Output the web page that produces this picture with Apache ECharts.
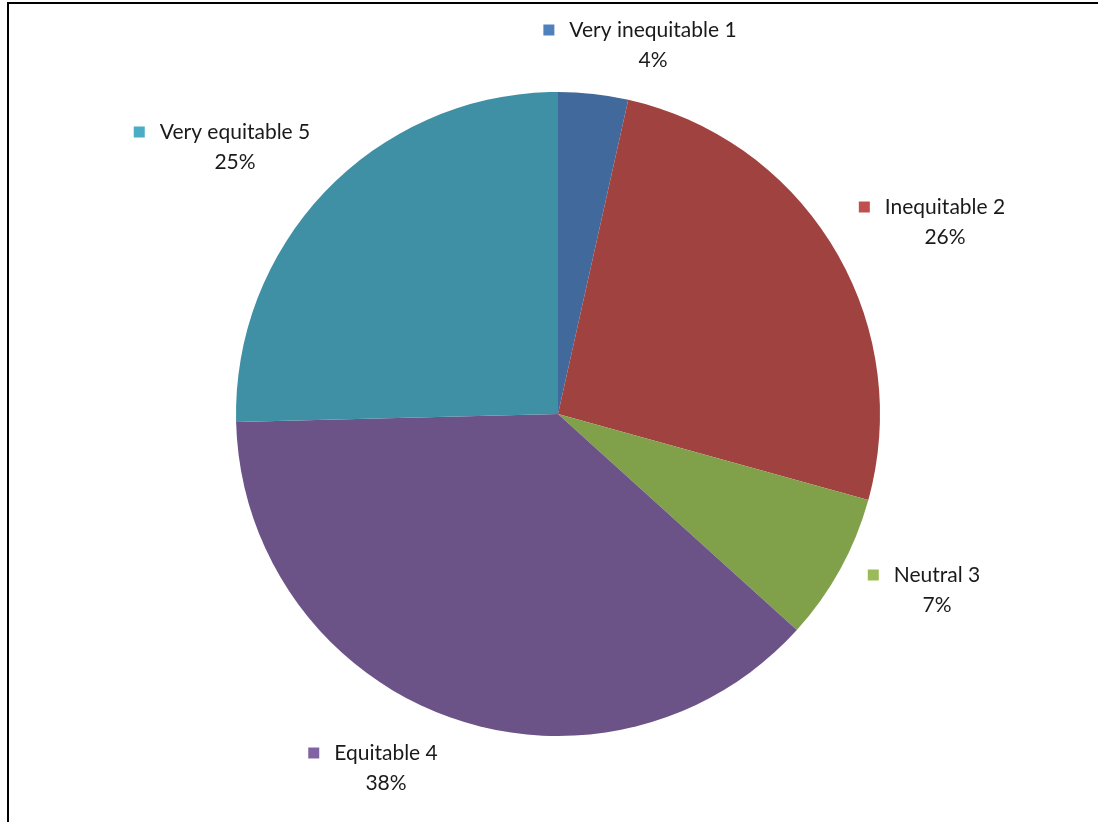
<!DOCTYPE html>
<html>
<head>
<meta charset="utf-8">
<script src="https://cdn.jsdelivr.net/npm/echarts@6/dist/echarts.min.js"></script>
<style>
html,body{margin:0;padding:0;background:#fff;}
#chart{width:1098px;height:822px;}
</style>
</head>
<body>
<div id="chart"></div>
<script>
// Data
var categories = ['Very inequitable 1', 'Inequitable 2', 'Neutral 3', 'Equitable 4', 'Very equitable 5'];
var values = [3.5, 25.8, 7.4, 37.9, 25.4];
var sliceColors = ['#41699B', '#A0423F', '#81A04A', '#6B5388', '#3F8FA5'];
var keyColors = ['#4F81BD', '#C0504D', '#9BBB59', '#8064A2', '#4BACC6'];
// label block centres (layout only)
var labelPos = [[640, 45], [932, 222], [924, 590], [373, 768], [222, 147]];

var chart = echarts.init(document.getElementById('chart'), null, {renderer: 'canvas'});
var total = values.reduce(function (a, b) { return a + b; }, 0);

var data = categories.map(function (c, i) {
  return {
    name: c,
    value: values[i],
    itemStyle: {color: sliceColors[i]},
    label: {
      rich: {
        sq: {width: 11, height: 11, backgroundColor: keyColors[i], padding: 0},
        gap: {width: 15},
        sp: {width: 26},
        t: {fontSize: 21, fontFamily: 'Lato, "Open Sans", sans-serif', color: '#1a1a1a', lineHeight: 30},
      }
    }
  };
});

chart.setOption({
  animation: false,
  backgroundColor: '#ffffff',
  graphic: [
    {type: 'line', shape: {x1: 7, y1: 3, x2: 1098, y2: 3}, style: {stroke: '#000', lineWidth: 2}},
    {type: 'line', shape: {x1: 8, y1: 2, x2: 8, y2: 822}, style: {stroke: '#000', lineWidth: 2}}
  ],
  series: [{
    type: 'pie',
    center: [558, 414],
    radius: [0, 322],
    startAngle: 90,
    clockwise: true,
    avoidLabelOverlap: false,
    data: data,
    itemStyle: {borderWidth: 0},
    emphasis: {disabled: true},
    labelLine: {show: false},
    label: {
      show: true,
      position: 'outside',
      align: 'center',
      formatter: function (p) {
        var pct = Math.round(p.value / total * 100);
        return '{sq|}{gap|}{t|' + p.name + '}\n{sp|}{t|' + pct + '%}';
      }
    },
    labelLayout: function (params) {
      var p = labelPos[params.dataIndex];
      return {x: p[0], y: p[1], align: 'center', verticalAlign: 'middle'};
    }
  }]
});
</script>
</body>
</html>
